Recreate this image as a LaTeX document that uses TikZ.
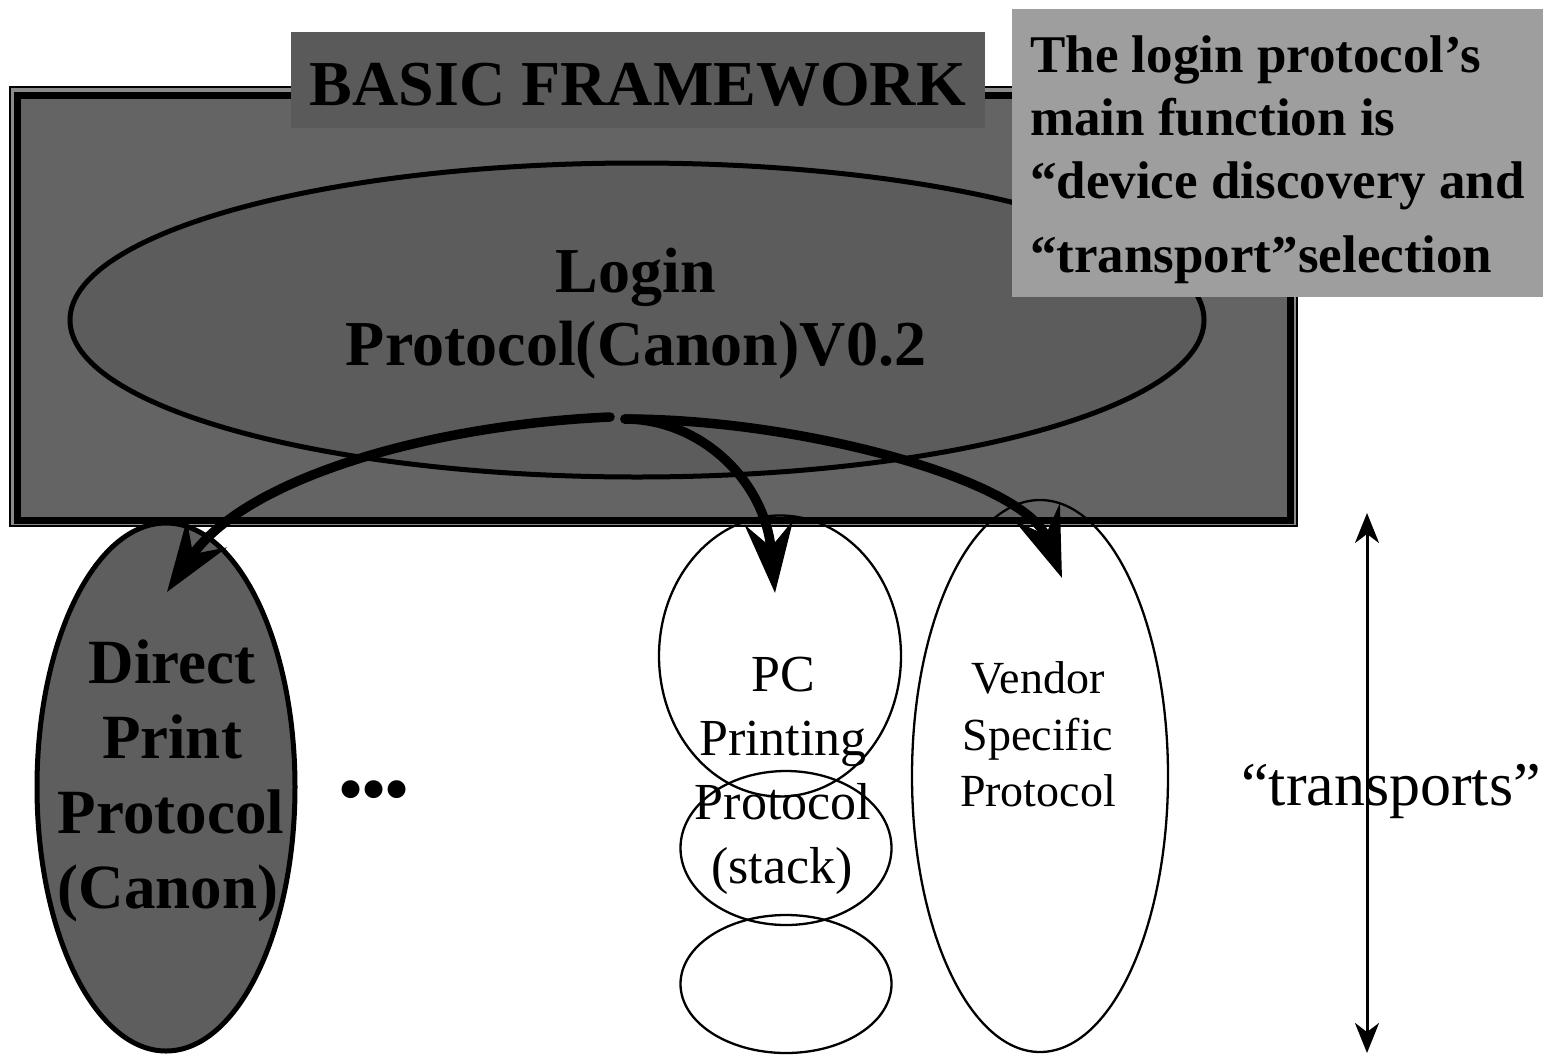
\documentclass[tikz,border=0pt]{standalone}
\usepackage{fontspec}
\setmainfont{Liberation Serif}
\usetikzlibrary{arrows.meta,shapes.geometric}
\definecolor{fwfill}{HTML}{646464}
\definecolor{fwgap}{HTML}{8A8A8A}
\definecolor{loginfill}{HTML}{5C5C5C}
\definecolor{titlefill}{HTML}{5A5A5A}
\definecolor{notefill}{HTML}{9E9E9E}
\definecolor{dppfill}{HTML}{5E5E5E}
\tikzset{
  oval/.style={ellipse, inner sep=0pt, outer sep=0pt},
  bigarrow/.style={line width=9.5pt, line cap=round, -{Stealth[length=70pt,width=48pt,inset=24pt]}},
  bigbold/.style={font=\fontsize{64}{76}\selectfont\bfseries, inner sep=0pt, anchor=base},
  dpptext/.style={font=\fontsize{63}{75}\selectfont\bfseries, inner sep=0pt, anchor=base},
  notetext/.style={font=\fontsize{53}{63}\selectfont\bfseries, inner sep=0pt, anchor=base west},
  pctext/.style={font=\fontsize{52}{62}\selectfont, inner sep=0pt, anchor=base},
  vendtext/.style={font=\fontsize{46}{56}\selectfont, inner sep=0pt, anchor=base},
  twoway/.style={line width=3pt, {Stealth[length=30pt,width=24pt,inset=9pt]}-{Stealth[length=30pt,width=24pt,inset=9pt]}},
}
\begin{document}
\begin{tikzpicture}[x=1pt,y=-1pt]
\useasboundingbox[fill=white] (0,0) rectangle (1549,1055);
% frame
\draw[line width=1.5pt, fill=fwgap] (10,87) rectangle (1297,526);
\draw[line width=7pt, fill=fwfill] (17,95) rectangle (1290,520);
% login ellipse
\node (login) [oval, draw, line width=5pt, fill=loginfill, minimum width=1134pt, minimum height=314pt] at (637,320) {};
\node (l1) [bigbold] at (636,292) {Login};
\node (l2) [bigbold] at (636,365) {Protocol(Canon)V0.2};
% title box
\node (ttlbox) [fill=titlefill, minimum width=694pt, minimum height=96pt, inner sep=0pt, anchor=north west] at (291,32) {};
\node (ttl) [bigbold] at (638,105) {BASIC FRAMEWORK};
% note box
\node (notebox) [fill=notefill, minimum width=531pt, minimum height=288pt, inner sep=0pt, anchor=north west] at (1012,9) {};
\node (n1) [notetext] at (1030,72) {The login protocol’s};
\node (n2) [notetext] at (1030,135) {main function is};
\node (n3) [notetext] at (1030,198) {“device discovery and};
\node (n4) [notetext] at (1030,272) {“transport”selection};
% lower ellipses
\node (dpp) [oval, draw, line width=5pt, fill=dppfill, minimum width=258pt, minimum height=528pt] at (166,787) {};
\node (d1) [dpptext] at (172,683) {Direct};
\node (d2) [dpptext] at (172,758) {Print};
\node (d3) [dpptext] at (171,833) {Protocol};
\node (d4) [dpptext] at (168,908) {(Canon)};
\node (dots) [font=\fontsize{66}{78}\selectfont\bfseries, inner sep=0pt] at (374,796) {•••};
\node (pc1) [oval, draw, line width=2.3pt, minimum width=242pt, minimum height=281pt] at (780,656) {};
\node (pc2) [oval, draw, line width=2.3pt, minimum width=211pt, minimum height=154pt] at (786,848) {};
\node (pc3) [oval, draw, line width=2.3pt, minimum width=211pt, minimum height=138pt] at (786,984) {};
\node (p1) [pctext] at (783,691) {PC};
\node (p2) [pctext] at (783,755) {Printing};
\node (p3) [pctext] at (783,819) {Protocol};
\node (p4) [pctext] at (782,883) {(stack)};
\node (vend) [oval, draw, line width=2.3pt, minimum width=256pt, minimum height=552pt] at (1040,776) {};
\node (v1) [vendtext] at (1038,693) {Vendor};
\node (v2) [vendtext] at (1038,750) {Specific};
\node (v3) [vendtext] at (1038,806) {Protocol};
% transports
\coordinate (tt) at (1367,513);
\coordinate (tb) at (1367,1053);
\draw[twoway] (tt) -- (tb);
\node (tr) [font=\fontsize{62}{74}\selectfont, inner sep=0pt, anchor=base] at (1391,805) {“transports”};
% arrows
\coordinate (s1) at (610,417);
\coordinate (s2) at (625,419);
\coordinate (t1) at (167,592);
\coordinate (t2) at (775,593);
\coordinate (t3) at (1062,578);
\draw[bigarrow] (s1) .. controls (430,425) and (245,478) .. (t1);
\draw[bigarrow] (s2) .. controls (700,419) and (765,480) .. (t2);
\draw[bigarrow] (s2) .. controls (800,419) and (1025,480) .. (t3);
\end{tikzpicture}
\end{document}
